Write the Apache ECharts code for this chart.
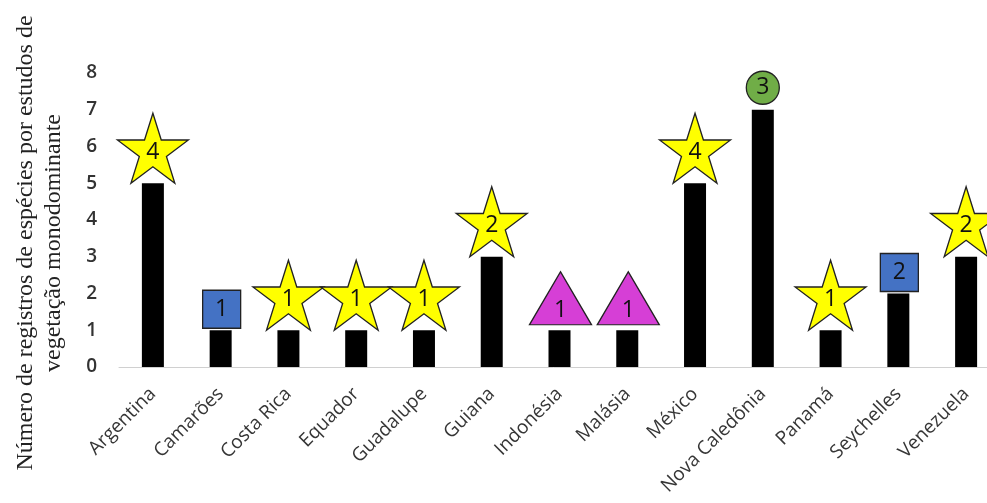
<!DOCTYPE html>
<html>
<head>
<meta charset="utf-8">
<script src="https://cdn.jsdelivr.net/npm/echarts@6/dist/echarts.min.js"></script>
<style>html,body{margin:0;padding:0;background:#fff}#c{width:987px;height:503px}</style>
</head>
<body>
<div id="c"></div>
<script>
const categories = ['Argentina','Camarões','Costa Rica','Equador','Guadalupe','Guiana','Indonésia','Malásia','México','Nova Caledônia','Panamá','Seychelles','Venezuela'];
const values = [5,1,1,1,1,3,1,1,5,7,1,2,3];
const markerShapes = ['star','square','star','star','star','star','triangle','triangle','star','circle','star','square','star'];
const markerCounts = [4,1,1,1,1,2,1,1,4,3,1,2,2];
const yTicks = [0,1,2,3,4,5,6,7,8];

const STAR = 'path://M100 0 L122.45 69.1 L195.1 69.1 L136.3 111.8 L158.8 180.9 L100 138.2 L41.2 180.9 L63.7 111.8 L4.9 69.1 L77.55 69.1 Z';
const shapeStyle = {
  star:     {symbol: STAR,       size: [71, 70], offset: [0, -35], color: '#ffff00', labelOff: [0, 4]},
  square:   {symbol: 'rect',     size: [38, 38], offset: [1, -21], color: '#4472c4', labelOff: [0, 0]},
  triangle: {symbol: 'triangle', size: [62, 53], offset: [1, -32], color: '#d63fd6', labelOff: [0, 12]},
  circle:   {symbol: 'circle',   size: [33, 33], offset: [0, -22], color: '#70ad47', labelOff: [0, 0]}
};

const markerData = categories.map((c, i) => {
  const s = shapeStyle[markerShapes[i]];
  return {
    value: [i, values[i]],
    symbol: s.symbol,
    symbolSize: s.size,
    symbolOffset: s.offset,
    itemStyle: {color: s.color, borderColor: '#222', borderWidth: 1.3, opacity: 1},
    label: {show: true, position: 'inside', offset: s.labelOff, formatter: String(markerCounts[i]),
            fontFamily: 'Open Sans', fontSize: 23, color: '#111'}
  };
});

const chart = echarts.init(document.getElementById('c'), null, {renderer: 'canvas'});
chart.setOption({
  animation: false,
  backgroundColor: '#fff',
  grid: {left: 119, width: 881, top: 73, bottom: 136, containLabel: false, outerBoundsMode: 'none'},
  xAxis: {
    type: 'category', data: categories, boundaryGap: true,
    axisLine: {lineStyle: {color: '#d0d0d0', width: 1}},
    axisTick: {show: false},
    axisLabel: {interval: 0, rotate: 45, margin: 24, fontFamily: 'Open Sans', fontSize: 19, color: '#363636'}
  },
  yAxis: {
    type: 'value', min: yTicks[0], max: yTicks[yTicks.length - 1], interval: 1,
    axisLine: {show: false}, axisTick: {show: false}, splitLine: {show: false},
    axisLabel: {margin: 22, fontFamily: 'Open Sans', fontSize: 19, fontWeight: 600, color: '#333'}
  },
  graphic: [{
    type: 'text', x: 40, y: 243, rotation: Math.PI / 2,
    style: {text: 'Número de registros de espécies por estudos de\nvegetação monodominante',
            fontFamily: 'Liberation Serif', fontSize: 24, lineHeight: 28, fill: '#222',
            align: 'center', verticalAlign: 'middle'}
  }],
  series: [
    {type: 'bar', data: values, barWidth: 22, itemStyle: {color: '#000'}, z: 2},
    {type: 'scatter', data: markerData, z: 3}
  ]
});
</script>
</body>
</html>
